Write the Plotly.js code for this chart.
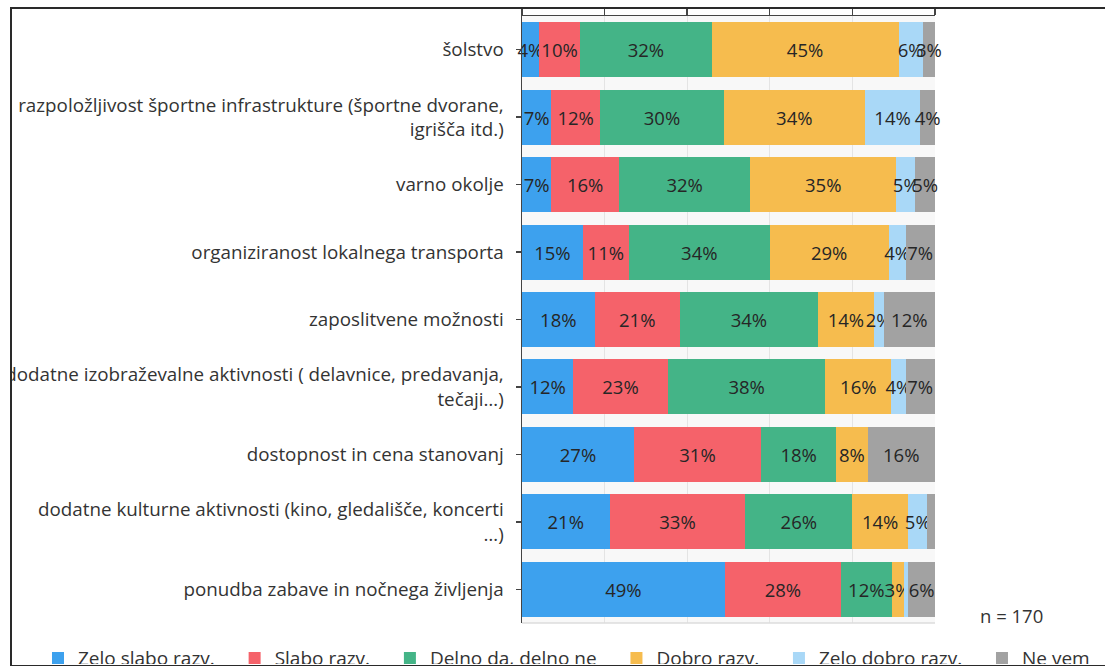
<!DOCTYPE html>
<html>
<head>
<meta charset="utf-8">
<script src="https://cdn.plot.ly/plotly-3.0.1.min.js"></script>
<style>
  html, body { margin: 0; padding: 0; background: #ffffff; width: 1105px; height: 666px; overflow: hidden; }
  #chart { position: absolute; left: 11px; top: 9px; width: 1094px; height: 655px; overflow: hidden; }
  .bline { position: absolute; background: #2a2a2a; }
</style>
</head>
<body>
<div id="chart"></div>
<div class="bline" style="left:10px; top:7px; width:1095px; height:1.5px;"></div>
<div class="bline" style="left:10px; top:7px; width:1.5px; height:659px;"></div>
<div class="bline" style="left:10px; top:664.5px; width:1095px; height:1.5px;"></div>
<script>
// Categories (top to bottom)
const categories = [
  "šolstvo",
  "razpoložljivost športne infrastrukture (športne dvorane,<br>igrišča itd.)",
  "varno okolje",
  "organiziranost lokalnega transporta",
  "zaposlitvene možnosti",
  "dodatne izobraževalne aktivnosti ( delavnice, predavanja,<br>tečaji…)",
  "dostopnost in cena stanovanj",
  "dodatne kulturne aktivnosti (kino, gledališče, koncerti<br>…)",
  "ponudba zabave in nočnega življenja"
];

// Series names
const seriesNames = ["Zelo slabo razv.", "Slabo razv.", "Delno da, delno ne", "Dobro razv.", "Zelo dobro razv.", "Ne vem"];

// Series values (% of respondents, n = 170)
const zeloSlabo = [4.1, 7.1, 7.1, 14.7, 17.6, 12.4, 27.1, 21.2, 49.1];
const slabo     = [10.0, 11.8, 16.4, 11.2, 20.6, 22.9, 30.8, 32.9, 28.2];
const delno     = [31.8, 30.0, 31.8, 34.1, 33.5, 38.2, 18.2, 25.9, 12.2];
const dobro     = [45.3, 34.1, 35.3, 28.8, 13.5, 15.9, 7.6, 13.5, 2.9];
const zeloDobro = [5.9, 13.5, 4.7, 4.1, 2.4, 3.5, 0, 4.7, 1.2];
const neVem     = [2.9, 3.5, 4.7, 7.1, 12.4, 7.1, 16.3, 1.8, 6.4];

const nLabel = "n = 170";

const colors = ["#3DA1EE", "#F5626A", "#44B487", "#F6BC4E", "#A9D8F7", "#A2A2A2"];
const seriesValues = [zeloSlabo, slabo, delno, dobro, zeloDobro, neVem];

const FONT = "Open Sans, Noto Sans, DejaVu Sans, sans-serif";
const NBSP = "\u00a0\u00a0\u00a0";

// plot area horizontal placement (fractions of the figure width)
const X0 = 511 / 1094, X1 = 924 / 1094;

const traces = seriesValues.map((vals, i) => ({
  type: "bar",
  orientation: "h",
  name: seriesNames[i] + NBSP,
  y: categories,
  x: vals,
  marker: { color: colors[i], line: { width: 0 } },
  text: vals.map(v => v >= 2 ? Math.round(v) + "%" : ""),
  texttemplate: "%{text}",
  textposition: "inside",
  insidetextanchor: "middle",
  textangle: 0,
  constraintext: "none",
  cliponaxis: false,
  textfont: { family: FONT, size: 18.5, color: "#262626" },
  insidetextfont: { family: FONT, size: 18.5, color: "#262626" },
  hoverinfo: "skip"
}));

const layout = {
  width: 1094,
  height: 655,
  margin: { l: 0, r: 0, t: 7, b: 41, autoexpand: false },
  paper_bgcolor: "#ffffff",
  plot_bgcolor: "rgba(0,0,0,0)",
  barmode: "stack",
  bargap: 0.185,
  showlegend: true,
  font: { family: FONT, size: 18.5, color: "#333333" },
  xaxis: {
    domain: [X0, X1],
    side: "top",
    range: [0, 100.03],
    dtick: 20,
    tick0: 0,
    showticklabels: false,
    ticks: "outside",
    ticklen: 8,
    tickwidth: 1.5,
    tickcolor: "#444444",
    showline: true,
    linecolor: "#444444",
    linewidth: 1.5,
    showgrid: true,
    gridcolor: "#e4e4e4",
    zeroline: false,
    fixedrange: true
  },
  yaxis: {
    type: "category",
    categoryorder: "array",
    categoryarray: categories,
    autorange: "reversed",
    ticks: "outside",
    ticklen: 5,
    tickwidth: 1.5,
    tickcolor: "#444444",
    ticklabelstandoff: 8,
    showline: true,
    linecolor: "#444444",
    linewidth: 1.5,
    showgrid: false,
    automargin: false,
    tickfont: { family: FONT, size: 18.8, color: "#333333" },
    fixedrange: true
  },
  legend: {
    orientation: "h",
    x: 27 / 1094,
    xanchor: "left",
    y: -0.058,
    yanchor: "middle",
    font: { family: FONT, size: 19, color: "#333333" },
    bgcolor: "rgba(0,0,0,0)",
    traceorder: "normal"
  },
  shapes: [
    { type: "rect", layer: "below", xref: "paper", yref: "paper", x0: X0, x1: X1, y0: 0, y1: 1, fillcolor: "#f8f8f8", line: { width: 0 } },
    { type: "line", xref: "paper", yref: "paper", x0: X0, x1: X1, y0: 0, y1: 0, line: { color: "#dcdcdc", width: 1.5 } }
  ],
  annotations: [
    { text: nLabel, xref: "paper", yref: "paper", x: 1000 / 1094, y: 0.012, xanchor: "center", yanchor: "middle", showarrow: false, font: { family: FONT, size: 18.5, color: "#333333" } }
  ]
};

Plotly.newPlot("chart", traces, layout, { staticPlot: true, displayModeBar: false });
</script>
</body>
</html>
